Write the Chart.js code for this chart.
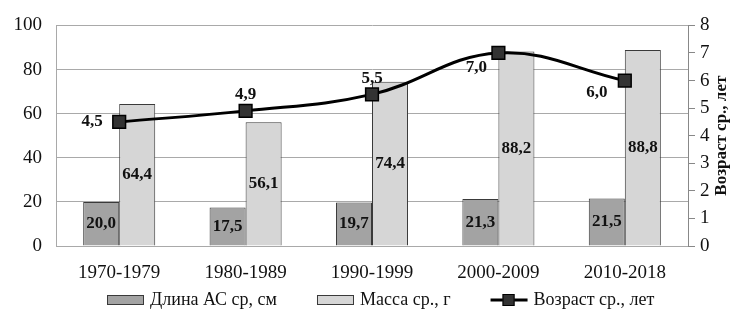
<!DOCTYPE html>
<html>
<head>
<meta charset="utf-8">
<script src="https://cdn.jsdelivr.net/npm/chart.js@4/dist/chart.umd.min.js"></script>
<style>
  html, body { margin: 0; padding: 0; background: #fff; }
  #wrap { width: 738px; height: 319px; position: relative; }
</style>
</head>
<body>
<div id="wrap"><canvas id="chart"></canvas></div>
<script>
const periods = ["1970-1979", "1980-1989", "1990-1999", "2000-2009", "2010-2018"];
const lengthValues = [20.0, 17.5, 19.7, 21.3, 21.5];
const massValues = [64.4, 56.1, 74.4, 88.2, 88.8];
const ageValues = [4.5, 4.9, 5.5, 7.0, 6.0];
const seriesNames = ["Длина АС ср, см", "Масса ср., г", "Возраст ср., лет"];
const rightAxisTitle = "Возраст ср., лет";

const SERIF = "'Liberation Serif', 'DejaVu Serif', serif";
const DARK_BAR = "#a3a3a3";
const LIGHT_BAR = "#d6d6d6";
const EDGE = "#3a3a3a";
const GRID = "#a9a9a9";

// where each age label sits relative to its marker
const ageLabelOffsets = [[-27, 0], [0, -16], [0, -16], [-22, 15], [-28, 12]];

function fmt(v) {
  return v.toFixed(1).replace(".", ",");
}

const valueLabels = {
  id: "valueLabels",
  afterDatasetsDraw(chart) {
    const ctx = chart.ctx;
    ctx.save();
    ctx.font = `bold 17px ${SERIF}`;
    ctx.fillStyle = "#111";
    ctx.textAlign = "center";
    ctx.textBaseline = "middle";
    [0, 1].forEach(i => {
      chart.getDatasetMeta(i).data.forEach((bar, j) => {
        const v = chart.data.datasets[i].data[j];
        ctx.fillText(fmt(v), bar.x, (bar.y + bar.base) / 2);
      });
    });
    chart.getDatasetMeta(2).data.forEach((pt, j) => {
      const [dx, dy] = ageLabelOffsets[j];
      ctx.fillText(fmt(ageValues[j]), pt.x + dx, pt.y + dy);
    });

    // right axis title, reading bottom to top
    const area = chart.chartArea;
    ctx.translate(area.right + 34, (area.top + area.bottom) / 2);
    ctx.rotate(-Math.PI / 2);
    ctx.font = `bold 17px ${SERIF}`;
    ctx.fillText(rightAxisTitle, 0, 0);
    ctx.restore();
  },
};

const bottomLegend = {
  id: "bottomLegend",
  afterDraw(chart) {
    const ctx = chart.ctx;
    const y = 300;
    let x = 107;
    ctx.save();
    ctx.font = `18px ${SERIF}`;
    ctx.textBaseline = "middle";
    seriesNames.forEach((name, i) => {
      if (i < 2) {
        ctx.fillStyle = i === 0 ? DARK_BAR : LIGHT_BAR;
        ctx.fillRect(x, y - 5, 37, 10);
        ctx.strokeStyle = EDGE;
        ctx.lineWidth = 1;
        ctx.strokeRect(x + 0.5, y - 4.5, 36, 9);
      } else {
        ctx.strokeStyle = "#000";
        ctx.lineWidth = 3;
        ctx.beginPath();
        ctx.moveTo(x, y);
        ctx.lineTo(x + 37, y);
        ctx.stroke();
        ctx.fillStyle = "#333";
        ctx.fillRect(x + 12, y - 6, 12, 12);
        ctx.lineWidth = 1;
        ctx.strokeRect(x + 12.5, y - 5.5, 11, 11);
      }
      x += 43;
      ctx.fillStyle = "#111";
      ctx.fillText(name, x, y);
      x += ctx.measureText(name).width + 40;
    });
    ctx.restore();
  },
};

new Chart(document.getElementById("chart"), {
  data: {
    labels: periods,
    datasets: [
      {
        type: "bar",
        label: seriesNames[0],
        data: lengthValues,
        backgroundColor: DARK_BAR,
        borderColor: EDGE,
        borderWidth: 1,
        barPercentage: 1,
        categoryPercentage: 0.57,
        yAxisID: "y",
        order: 2,
      },
      {
        type: "bar",
        label: seriesNames[1],
        data: massValues,
        backgroundColor: LIGHT_BAR,
        borderColor: EDGE,
        borderWidth: 1,
        barPercentage: 1,
        categoryPercentage: 0.57,
        yAxisID: "y",
        order: 2,
      },
      {
        type: "line",
        label: seriesNames[2],
        data: ageValues,
        borderColor: "#000",
        borderWidth: 3,
        tension: 0.4,
        pointStyle: "rect",
        pointRadius: 9,
        pointBackgroundColor: "#333",
        pointBorderColor: "#000",
        pointBorderWidth: 1.5,
        yAxisID: "y1",
        order: 1,
      },
    ],
  },
  options: {
    responsive: true,
    maintainAspectRatio: false,
    animation: false,
    layout: { padding: { top: 14, left: 0, right: 0, bottom: 33 } },
    plugins: {
      legend: { display: false },
      tooltip: { enabled: false },
    },
    scales: {
      x: {
        grid: { display: false },
        border: { color: GRID },
        ticks: { color: "#111", font: { family: SERIF, size: 19 }, padding: 8 },
        afterFit: s => { s.height = 40; },
      },
      y: {
        position: "left",
        min: 0,
        max: 100,
        ticks: { stepSize: 20, color: "#111", font: { family: SERIF, size: 19 }, padding: 14 },
        grid: { color: GRID, drawTicks: false },
        border: { color: GRID },
        afterFit: s => { s.width = 56; },
      },
      y1: {
        position: "right",
        min: 0,
        max: 8,
        ticks: { stepSize: 1, color: "#111", font: { family: SERIF, size: 19 }, padding: 5 },
        grid: { drawOnChartArea: false, drawTicks: true, tickLength: 7, color: "#888" },
        border: { color: "#888" },
        afterFit: s => { s.width = 50; },
      },
    },
  },
  plugins: [valueLabels, bottomLegend],
});
</script>
</body>
</html>
